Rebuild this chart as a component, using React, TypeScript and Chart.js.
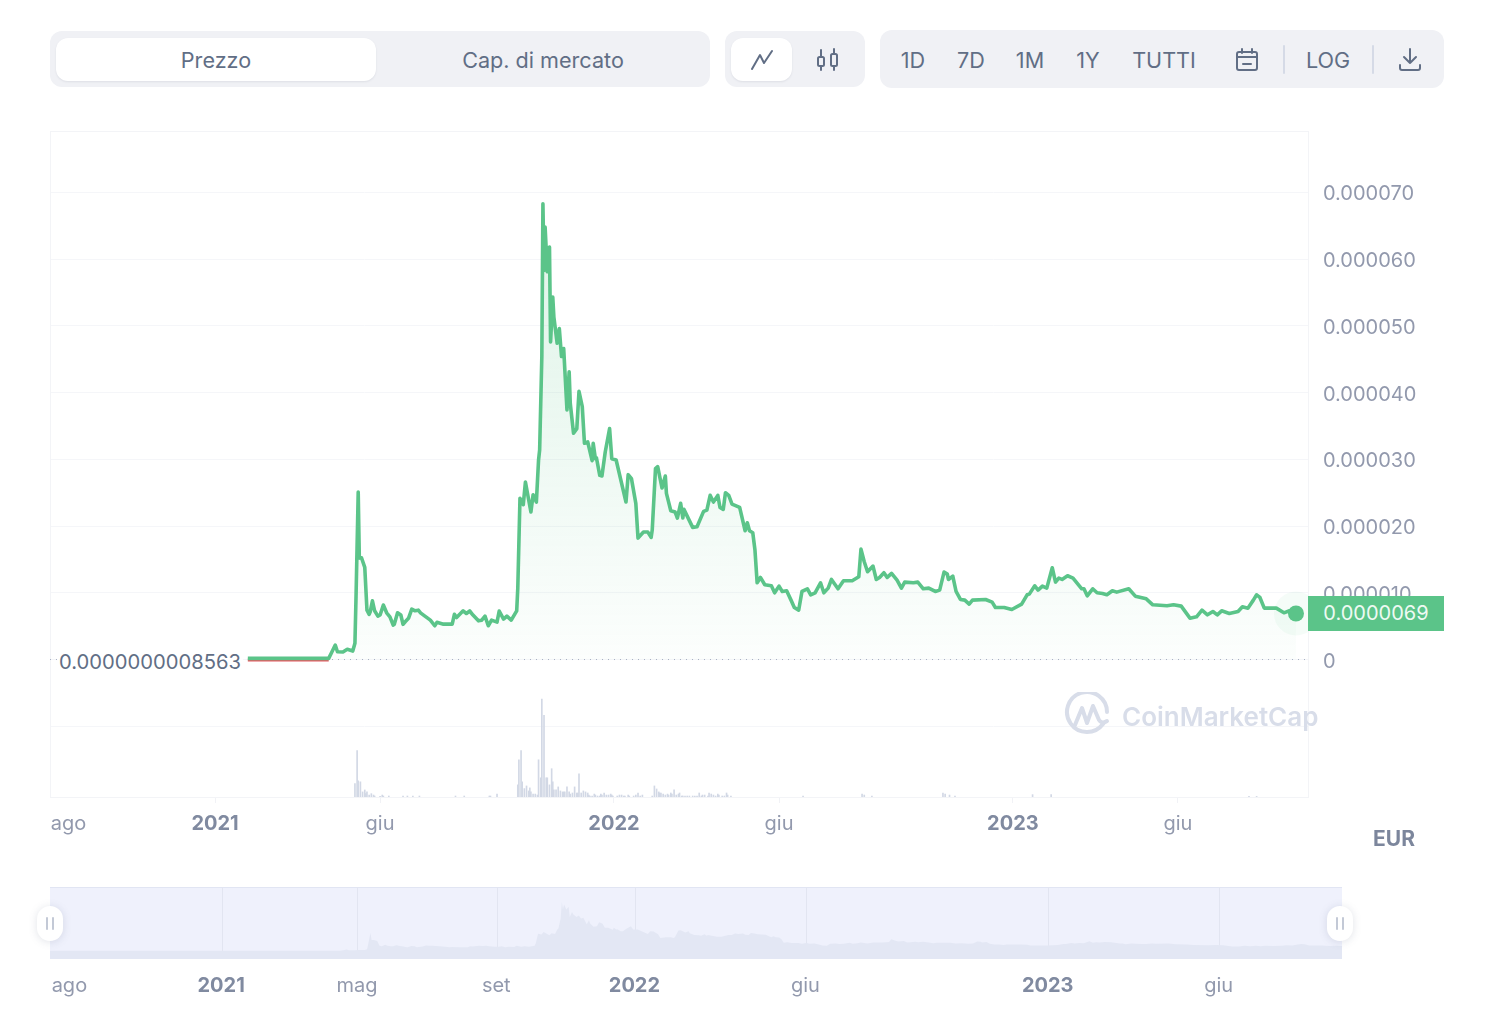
import { useEffect, useRef } from "react"
import { Chart, registerables, type Plugin } from "chart.js"

Chart.register(...registerables)

// days counted from 1 Jan 2021, prices in millionths of a euro
const priceDays = [
  30, 43, 59, 78, 104, 107, 110, 112, 117, 121, 126, 128, 129, 131, 132, 134, 137, 139, 141, 142,
  144, 146, 149, 151, 154, 157, 160, 163, 164, 167, 170, 172, 174, 177, 180, 183, 186, 188, 192, 197,
  201, 203, 209, 217, 219, 221, 227, 230, 233, 236, 241, 244, 247, 250, 253, 258, 260, 264, 267, 271,
  276, 277, 279, 282, 284, 289, 291, 294, 296, 297, 299, 300, 301, 302, 304, 306, 307, 309, 310, 313,
  315, 317, 319, 322, 324, 325, 328, 331, 333, 336, 338, 341, 345, 346, 348, 349, 352, 354, 357, 361,
  363, 367, 376, 378, 381, 385, 387, 392, 396, 399, 400, 403, 405, 409, 412, 413, 417, 421, 423, 426,
  428, 429, 437, 441, 447, 450, 453, 456, 460, 462, 465, 467, 470, 473, 480, 485, 487, 489, 492, 494,
  496, 499, 503, 509, 512, 516, 519, 523, 527, 530, 534, 537, 542, 545, 549, 554, 557, 561, 564, 570,
  575, 583, 589, 591, 594, 597, 602, 605, 608, 612, 615, 619, 624, 628, 631, 639, 643, 648, 653, 659,
  663, 667, 670, 671, 675, 678, 682, 686, 690, 693, 705, 711, 714, 722, 729, 738, 743, 745, 750, 753,
  757, 761, 766, 769, 772, 775, 780, 785, 793, 795, 798, 803, 807, 812, 816, 821, 825, 836, 842, 852,
  858, 871, 877, 884, 892, 898, 903, 908, 913, 917, 921, 928, 936, 940, 945, 950, 953, 956, 960, 971,
  978, 983, 989,
]
const priceValues = [
  0.17, 0.17, 0.17, 0.17, 0.18, 1.17, 2.17, 1.17, 1.12, 1.53, 1.27, 2.43, 9.4, 25.1, 15.2, 15.25, 13.8, 7.4, 6.77, 7.16,
  8.8, 7.3, 6.5, 6.67, 8.16, 7.0, 6.4, 5.17, 5.27, 7.0, 6.67, 5.27, 5.66, 6.17, 7.56, 7.3, 7.4, 7.0, 6.5, 5.9,
  5.06, 5.57, 5.3, 5.3, 6.77, 6.3, 7.3, 6.9, 7.27, 6.67, 5.8, 5.9, 6.5, 5.06, 5.9, 5.6, 7.27, 6.07, 6.5, 5.9,
  7.3, 10.7, 24.15, 23.2, 26.6, 22.1, 24.7, 23.6, 29.9, 31.4, 45.4, 68.3, 58.3, 64.8, 58.1, 61.8, 47.6, 54.3, 51.35, 47.4,
  49.6, 45.4, 46.6, 37.4, 43.1, 38.4, 33.9, 34.6, 40.2, 37.9, 32.4, 32.6, 29.8, 32.4, 30.1, 30.2, 27.6, 27.5, 31.1, 34.6,
  30.1, 29.9, 23.6, 27.7, 27.1, 23.4, 18.2, 19.1, 19.1, 18.3, 19.4, 28.6, 28.9, 25.7, 27.5, 24.9, 22.3, 22.1, 21.2, 23.4,
  21.2, 22.5, 19.8, 19.9, 22.2, 22.4, 24.6, 23.6, 24.6, 22.8, 22.5, 25.0, 24.6, 23.3, 22.8, 19.3, 20.5, 19.3, 19.0, 16.4,
  11.5, 12.3, 11.2, 11.05, 10.0, 11.0, 10.2, 10.3, 8.9, 7.8, 7.4, 10.2, 10.6, 9.7, 10.0, 11.5, 10.0, 10.7, 12.0, 10.6,
  11.8, 11.8, 12.4, 16.55, 14.65, 13.15, 14.0, 12.0, 12.3, 13.0, 12.3, 12.9, 11.9, 10.7, 11.6, 11.5, 11.6, 10.6, 10.7, 10.2,
  10.4, 13.1, 12.8, 12.0, 12.5, 10.2, 9.0, 8.9, 8.3, 8.9, 9.0, 8.6, 7.8, 7.8, 7.5, 8.3, 9.7, 9.8, 11.05, 10.4,
  11.0, 10.7, 13.75, 11.6, 12.2, 12.0, 12.55, 12.2, 10.6, 10.6, 9.55, 10.6, 10.0, 9.9, 9.7, 10.3, 10.1, 10.6, 9.5, 9.1,
  8.2, 8.05, 8.2, 8.0, 6.2, 6.4, 7.4, 6.7, 7.2, 6.7, 7.3, 6.9, 7.2, 7.9, 7.7, 8.9, 9.7, 9.3, 7.7, 7.7,
  7.0, 7.3, 6.9,
]

// stretch that sits under the opening price, drawn red
const belowDays = [30, 104]
const belowValues = [-0.07, -0.07]
const lastDay = [989]
const lastValue = [6.9]

// traded volume, 100 = the busiest day
const volumeDays = [
  128, 130, 131, 133, 135, 137, 138, 139, 141, 143, 145, 146, 151, 153, 154, 159, 172, 176, 181, 187,
  220, 228, 251, 252, 258, 277, 278, 280, 281, 283, 285, 287, 288, 289, 291, 293, 295, 296, 298, 299,
  301, 303, 304, 306, 308, 309, 310, 312, 314, 316, 318, 319, 320, 322, 324, 325, 327, 329, 331, 332,
  333, 335, 337, 339, 341, 342, 343, 345, 347, 348, 350, 352, 353, 354, 356, 358, 360, 362, 363, 364,
  368, 370, 372, 374, 375, 378, 379, 383, 385, 387, 389, 391, 400, 402, 404, 406, 407, 408, 410, 412,
  414, 415, 417, 418, 420, 422, 424, 425, 427, 428, 430, 432, 434, 437, 439, 441, 443, 445, 446, 448,
  451, 452, 454, 456, 458, 460, 461, 464, 466, 468, 469, 472, 538, 592, 594, 601, 666, 668, 672, 677,
  748, 765, 946, 953,
]
const volumeValues = [
  13.7, 47.4, 16.5, 15.5, 5.2, 7.2, 3.4, 5.2, 2, 3.4, 2, 1, 0.7, 2, 1, 1, 1, 1, 1, 1,
  1, 1, 1, 1, 3, 12.4, 38, 47.4, 15.5, 8.6, 11.3, 6.2, 9.3, 5.2, 3, 3, 2, 38, 19.6, 100,
  83.5, 19.6, 19.6, 12.4, 28.9, 15.5, 7.2, 7.2, 10.3, 6.2, 5.2, 5.2, 5.2, 10.3, 5.2, 3, 4.1, 10.3, 4.1, 4.1,
  23.7, 4.1, 6.2, 5.2, 4.1, 2, 1, 1, 3, 2, 1, 1, 3, 2, 4.1, 2, 2, 3, 2, 1,
  1, 2, 2, 1, 1, 2, 1, 1, 2, 4.1, 1, 2, 1, 11.3, 8.2, 5.2, 4.1, 4.1, 3, 2,
  3, 2, 4.1, 3, 7.2, 2, 3, 4.1, 1, 1, 1, 1, 1, 1, 1, 1, 4.1, 1, 2, 2,
  1, 4.1, 3, 2, 1, 3, 2, 1, 1, 4.1, 2, 1, 1, 3, 2, 1, 4, 3, 2, 1,
  2.4, 2.4, 0.6, 0.6,
]

const priceTicks = [-10, 0, 10, 20, 30, 40, 50, 60, 70]

const mainTickDays = [-134, 0, 151, 365, 516, 730, 881]
const mainTickLabels = ["ago", "2021", "giu", "2022", "giu", "2023", "giu"]
const navTickDays = [-134, 0, 120, 243, 365, 516, 730, 881]
const navTickLabels = ["ago", "2021", "mag", "set", "2022", "giu", "2023", "giu"]

const toPoints = (xs: number[], ys: number[]) => xs.map((x, i) => ({ x, y: ys[i] }))

const GREEN = "rgb(91, 196, 137)"
const FONT = "Inter, 'Noto Sans', sans-serif"
const TICK_GREY = "#9299ad"
const YEAR_GREY = "#808aa0"
const TEXT_GREY = "#616e85"

const yearFont = (ctx: any) => {
  const label = String(ctx.tick?.label ?? "")
  return /^20/.test(label)
    ? { family: FONT, size: 20, weight: 700 }
    : { family: FONT, size: 20, weight: 400 }
}
const yearColor = (ctx: any) => (/^20/.test(String(ctx.tick?.label ?? "")) ? YEAR_GREY : TICK_GREY)

const plotFrame: Plugin = {
  id: "plotFrame",
  beforeDatasetsDraw(chart) {
    const { ctx, chartArea: a } = chart
    ctx.save()
    ctx.strokeStyle = "#f3f4f7"
    ctx.lineWidth = 1
    ctx.strokeRect(a.left + 0.5, a.top + 0.5, a.width, a.height)
    ctx.restore()
  },
}

const navBackground: Plugin = {
  id: "navBackground",
  beforeDraw(chart) {
    const { ctx, chartArea: a } = chart
    ctx.save()
    ctx.fillStyle = "#eff1fc"
    ctx.fillRect(a.left, a.top, a.width, a.height)
    ctx.strokeStyle = "#e1e5f3"
    ctx.beginPath()
    ctx.moveTo(a.left, a.top + 0.5)
    ctx.lineTo(a.right, a.top + 0.5)
    ctx.stroke()
    ctx.restore()
  },
}

function PriceChart() {
  const canvasRef = useRef<HTMLCanvasElement>(null)

  useEffect(() => {
    if (!canvasRef.current) return
    const chart = new Chart(canvasRef.current, {
      type: "line",
      data: {
        datasets: [
          {
            data: toPoints(lastDay, lastValue),
            showLine: false,
            pointRadius: 8,
            pointBackgroundColor: GREEN,
            pointBorderWidth: 0,
          },
          {
            data: toPoints(lastDay, lastValue),
            showLine: false,
            pointRadius: 22,
            pointBackgroundColor: "rgba(91, 196, 137, 0.06)",
            pointBorderWidth: 0,
          },
          {
            data: toPoints(priceDays, priceValues),
            borderColor: GREEN,
            borderWidth: 3.6,
            borderJoinStyle: "round",
            pointRadius: 0,
            tension: 0,
            fill: { value: 0 },
            backgroundColor: (ctx: any) => {
              const { chart: c } = ctx
              if (!c.chartArea) return "transparent"
              const yScale = c.scales.y
              const g = c.ctx.createLinearGradient(0, yScale.getPixelForValue(68), 0, yScale.getPixelForValue(0))
              g.addColorStop(0, "rgba(91, 196, 137, 0.2)")
              g.addColorStop(1, "rgba(91, 196, 137, 0.02)")
              return g
            },
          },
          {
            data: toPoints(belowDays, belowValues),
            borderColor: "#e5575f",
            borderWidth: 3,
            pointRadius: 0,
          },
          {
            // dotted line at the opening price
            data: [
              { x: -151, y: 0 },
              { x: 1000, y: 0 },
            ],
            borderColor: "#a9b1c4",
            borderWidth: 1,
            borderDash: [1, 5],
            pointRadius: 0,
          },
          {
            type: "bar",
            data: toPoints(volumeDays, volumeValues),
            yAxisID: "volume",
            backgroundColor: "#d2d8e5",
            barThickness: 1,
          },
        ] as any,
      },
      options: {
        responsive: false,
        animation: false,
        parsing: false as any,
        normalized: true,
        layout: { padding: { left: 50, top: 131, right: 0, bottom: 0 } },
        plugins: { legend: { display: false }, tooltip: { enabled: false } },
        scales: {
          x: {
            type: "linear",
            min: -151,
            max: 1000,
            offset: false,
            afterBuildTicks: (scale) => {
              scale.ticks = mainTickDays.map((value) => ({ value }))
            },
            afterFit: (scale) => {
              scale.height = 73
            },
            grid: {
              offset: false,
              drawOnChartArea: false,
              tickLength: 6,
              tickColor: (ctx: any) => (ctx.index === 0 ? "transparent" : "#f1f2f6"),
            },
            border: { color: "#eceef3" },
            ticks: {
              autoSkip: false,
              maxRotation: 0,
              padding: 9,
              color: yearColor,
              font: yearFont,
              callback: (_v, i) => mainTickLabels[i],
            },
          },
          y: {
            position: "right",
            min: -20.6,
            max: 79.2,
            afterBuildTicks: (scale) => {
              scale.ticks = priceTicks.map((value) => ({ value }))
            },
            afterFit: (scale) => {
              scale.width = 178
            },
            grid: { color: "#f5f6f9", drawTicks: false },
            border: { color: "#f3f4f7" },
            ticks: {
              padding: 15,
              labelOffset: 2,
              color: TICK_GREY,
              font: { family: FONT, size: 20 },
              callback: (v) => {
                const n = Number(v)
                if (n < 0) return ""
                return n === 0 ? "0" : (n * 1e-6).toFixed(6)
              },
            },
          },
          volume: {
            display: false,
            min: 0,
            max: 680,
          },
        },
      },
      plugins: [plotFrame],
    })
    return () => chart.destroy()
  }, [])

  return (
    <canvas
      ref={canvasRef}
      width={1486}
      height={870}
      style={{ position: "absolute", left: 0, top: 0, width: 1486, height: 870 }}
    />
  )
}

function RangeChart() {
  const canvasRef = useRef<HTMLCanvasElement>(null)

  useEffect(() => {
    if (!canvasRef.current) return
    const chart = new Chart(canvasRef.current, {
      type: "line",
      data: {
        datasets: [
          {
            data: [{ x: -152, y: priceValues[0] }, ...toPoints(priceDays, priceValues)],
            borderWidth: 0,
            pointRadius: 0,
            tension: 0,
            fill: "start",
            backgroundColor: "#e3e7f4",
          },
        ] as any,
      },
      options: {
        responsive: false,
        animation: false,
        parsing: false as any,
        layout: { padding: { left: 50, top: 17, right: 144, bottom: 0 } },
        plugins: { legend: { display: false }, tooltip: { enabled: false } },
        scales: {
          x: {
            type: "linear",
            min: -152,
            max: 989,
            afterBuildTicks: (scale) => {
              scale.ticks = navTickDays.map((value) => ({ value }))
            },
            afterFit: (scale) => {
              scale.height = 66
            },
            grid: {
              color: (ctx: any) => (ctx.index === 0 ? "transparent" : "#e2e5f1"),
              drawTicks: false,
            },
            border: { display: false },
            ticks: {
              autoSkip: false,
              maxRotation: 0,
              padding: 15,
              labelOffset: -1,
              color: yearColor,
              font: yearFont,
              callback: (_v, i) => navTickLabels[i],
            },
          },
          y: { display: false, min: -11.2, max: 89.4 },
        },
      },
      plugins: [navBackground],
    })
    return () => chart.destroy()
  }, [])

  return (
    <canvas
      ref={canvasRef}
      width={1486}
      height={155}
      style={{ position: "absolute", left: 0, top: 870, width: 1486, height: 155 }}
    />
  )
}

const box = (left: number, top: number, width: number, height: number, radius = 12) =>
  ({ position: "absolute", left, top, width, height, borderRadius: radius } as const)

function Label({ x, y, children, style }: { x: number; y: number; children: string; style?: any }) {
  return (
    <div
      style={{
        position: "absolute",
        left: x - 150,
        top: y - 14.5,
        width: 300,
        height: 30,
        lineHeight: "30px",
        textAlign: "center",
        fontSize: 21.6,
        color: TEXT_GREY,
        whiteSpace: "nowrap",
        ...style,
      }}
    >
      {children}
    </div>
  )
}

function Handle({ x }: { x: number }) {
  return (
    <div
      style={{
        ...box(x - 13, 906, 26, 35, 13),
        background: "#fff",
        boxShadow: "0 1px 8px rgba(88, 102, 126, 0.18)",
      }}
    >
      <div style={{ ...box(9, 11, 2, 13, 1), background: "#c3c9d6" }} />
      <div style={{ ...box(15, 11, 2, 13, 1), background: "#c3c9d6" }} />
    </div>
  )
}

const iconStroke = { fill: "none", stroke: TEXT_GREY, strokeWidth: 2, strokeLinecap: "round", strokeLinejoin: "round" } as const

function Toolbar() {
  return (
    <>
      <div style={{ ...box(50, 31, 660, 56), background: "#f0f1f5" }} />
      <div style={{ ...box(56, 38, 320, 43), background: "#fff", boxShadow: "0 1px 2px rgba(88,102,126,0.12)" }} />
      <Label x={216} y={59}>Prezzo</Label>
      <Label x={543} y={59}>Cap. di mercato</Label>

      <div style={{ ...box(725, 31, 140, 56), background: "#f0f1f5" }} />
      <div style={{ ...box(731, 38, 61, 43), background: "#fff", boxShadow: "0 1px 2px rgba(88,102,126,0.12)" }} />
      <svg style={{ position: "absolute", left: 745, top: 44 }} width={34} height={32}>
        <polyline points="7,25 15,11 19,19 27,7" {...iconStroke} />
      </svg>
      <svg style={{ position: "absolute", left: 811, top: 44 }} width={34} height={32} {...iconStroke}>
        <rect x={7} y={13} width={6} height={9} rx={1.5} />
        <rect x={20} y={10} width={6} height={12} rx={1.5} />
        <path d="M10 6v7M10 22v4M23 5v5M23 22v4" />
      </svg>

      <div style={{ ...box(880, 30, 564, 58), background: "#f0f1f5" }} />
      <Label x={913} y={59}>1D</Label>
      <Label x={971} y={59}>7D</Label>
      <Label x={1030} y={59}>1M</Label>
      <Label x={1088} y={59}>1Y</Label>
      <Label x={1164} y={59}>TUTTI</Label>
      <svg style={{ position: "absolute", left: 1233, top: 46 }} width={28} height={28} {...iconStroke}>
        <rect x={4} y={6} width={20} height={18} rx={2} />
        <path d="M4 11h20M9 3v4M19 3v4M10 18h8" />
      </svg>
      <div style={{ ...box(1283, 45, 2, 29, 1), background: "#d5dae6" }} />
      <Label x={1328} y={59}>LOG</Label>
      <div style={{ ...box(1372, 45, 2, 29, 1), background: "#d5dae6" }} />
      <svg style={{ position: "absolute", left: 1396, top: 45 }} width={28} height={28} {...iconStroke}>
        <path d="M14 4v14M8 12l6 6 6-6M4 20v3a2 2 0 0 0 2 2h16a2 2 0 0 0 2-2v-3" />
      </svg>
    </>
  )
}

export default function App() {
  return (
    <div style={{ position: "absolute", left: 0, top: 0, width: 1486, height: 1024, overflow: "hidden", background: "#fff", fontFamily: FONT }}>
      <Toolbar />
      <PriceChart />
      <RangeChart />

      <div
        style={{
          position: "absolute",
          left: 57,
          top: 649,
          width: 186,
          height: 26,
          lineHeight: "26px",
          background: "#fff",
          fontSize: 20.2,
          textAlign: "right",
          color: TEXT_GREY,
          paddingRight: 2,
          boxSizing: "border-box",
          whiteSpace: "nowrap",
        }}
      >
        0.0000000008563
      </div>

      <div
        style={{
          position: "absolute",
          left: 1308,
          top: 596,
          width: 136,
          height: 35,
          lineHeight: "35px",
          background: GREEN,
          color: "#eefaf3",
          fontSize: 20,
          textAlign: "center",
        }}
      >
        0.0000069
      </div>

      <svg style={{ position: "absolute", left: 1064, top: 692 }} width={46} height={46} fill="none" stroke="#d8dde9" strokeWidth={4} strokeLinecap="round" strokeLinejoin="round">
        <path d="M39 32a20 20 0 1 1 4-12" />
        <path d="M11 33l7-17 5 15 6-17 6 14c2 3 5 3 8 1" />
      </svg>
      <div
        style={{
          position: "absolute",
          left: 1122,
          top: 699,
          fontSize: 26,
          lineHeight: "36px",
          fontWeight: 600,
          color: "#d8dde9",
          whiteSpace: "nowrap",
        }}
      >
        CoinMarketCap
      </div>

      <Label x={1394} y={838} style={{ fontWeight: 700, color: "#7c869c", fontSize: 21 }}>EUR</Label>

      <Handle x={50} />
      <Handle x={1340} />
    </div>
  )
}
